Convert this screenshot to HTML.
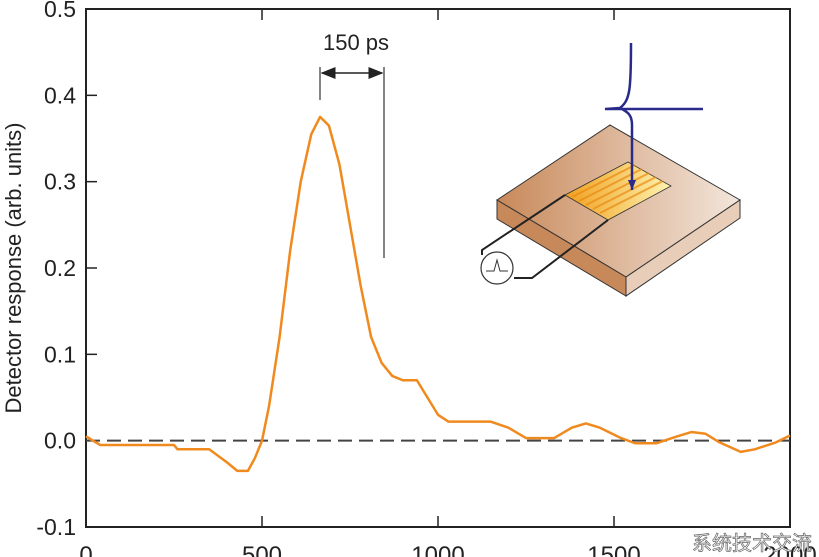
<!DOCTYPE html>
<html><head><meta charset="utf-8"><style>
html,body{margin:0;padding:0;background:#fff;width:819px;height:557px;overflow:hidden}
svg{display:block}
text{font-family:"Liberation Sans","Noto Sans CJK SC",sans-serif;fill:#222}
</style></head><body>
<svg id="c" width="819" height="557" viewBox="0 0 819 557">
<defs>
<marker id="ah" markerWidth="10" markerHeight="8" refX="9" refY="4" orient="auto-start-reverse"><path d="M0,0 L10,4 L0,8 Z" fill="#222"/></marker>
<linearGradient id="slab" x1="0" y1="0" x2="1" y2="0"><stop offset="0" stop-color="#c8895a"/><stop offset="1" stop-color="#f3e6dc"/></linearGradient>
<linearGradient id="stripes" x1="0" y1="0" x2="1" y2="0"><stop offset="0" stop-color="#f0a020"/><stop offset="1" stop-color="#fff3b0"/></linearGradient>
</defs>
<g id="axes"></g>
<g id="plot"></g>
<g>
<polygon points="497,200 610,125 740,200 626,277" fill="url(#slab)" stroke="#333" stroke-width="1"/>
<polygon points="497,200 626,277 626,296 497,219" fill="#c8895a" stroke="#333" stroke-width="1"/>
<polygon points="626,277 740,200 740,218 626,296" fill="#e8cdb8" stroke="#333" stroke-width="1"/>
<polygon points="565,195 628,162 671,186 608,220" fill="url(#stripes)" stroke="#333" stroke-width="0.8"/>
<g stroke="#e98a10" stroke-width="2" opacity="0.7">
<line x1="572" y1="197" x2="635" y2="165"/><line x1="579" y1="201" x2="642" y2="169"/><line x1="586" y1="205" x2="649" y2="173"/><line x1="593" y1="209" x2="656" y2="177"/><line x1="600" y1="213" x2="663" y2="181"/></g>
<polyline points="565,195 482,250 482,255" fill="none" stroke="#222" stroke-width="2"/>
<polyline points="608,220 532,278 514,278" fill="none" stroke="#222" stroke-width="2"/>
<circle cx="497" cy="268" r="16" fill="#fff" stroke="#333" stroke-width="1.2"/>
<polyline points="486,271 494,271 497,260 500,271 508,271" fill="none" stroke="#333" stroke-width="1"/>
<path d="M631,43 C631,90 630,100 620,108 L605,109 L703,109 M620,108 C628,112 632,115 632,125 L632,190" fill="none" stroke="#2a2a8a" stroke-width="2.5"/>
<polygon points="628,180 636,180 632,190" fill="#2a2a8a"/>
</g>
<g>
<line x1="320" y1="67" x2="320" y2="100" stroke="#333" stroke-width="1.2"/>
<line x1="384" y1="67" x2="384" y2="258" stroke="#333" stroke-width="1.2"/>
<line x1="322" y1="73" x2="382" y2="73" stroke="#222" stroke-width="1.5" marker-start="url(#ah)" marker-end="url(#ah)"/>
<text x="356" y="50" font-size="22" text-anchor="middle">150 ps</text>
</g>
<text x="752" y="550" font-size="20" text-anchor="middle" style="fill:#fff;stroke:#666;stroke-width:0.7">系统技术交流</text>
</svg>
<script>
const times=[0,20,40,250,260,350,400,430,460,480,500,520,550,580,610,640,665,690,720,750,780,810,840,870,900,940,970,1000,1030,1150,1200,1250,1330,1380,1420,1460,1520,1560,1620,1680,1720,1760,1800,1860,1900,1960,2000];
const response=[0.005,0.0,-0.005,-0.005,-0.01,-0.01,-0.025,-0.035,-0.035,-0.02,0.0,0.04,0.12,0.22,0.30,0.355,0.375,0.365,0.32,0.25,0.18,0.12,0.09,0.075,0.07,0.07,0.05,0.03,0.022,0.022,0.015,0.003,0.003,0.015,0.02,0.015,0.003,-0.003,-0.003,0.005,0.01,0.008,-0.002,-0.013,-0.01,-0.002,0.006];
const xTicks=[0,500,1000,1500,2000];
const yTicks=[-0.1,0.0,0.1,0.2,0.3,0.4,0.5];
const yTickLabels=["-0.1","0.0","0.1","0.2","0.3","0.4","0.5"];
const X0=86,X1=790,Y0=527,Y1=9;
const xs=v=>X0+(v-0)/(2000)*(X1-X0);
const ys=v=>Y0-(v+0.1)/0.6*(Y0-Y1);
const NS="http://www.w3.org/2000/svg";
const ax=document.getElementById('axes'),pl=document.getElementById('plot');
function mk(p,t,a){const e=document.createElementNS(NS,t);for(const k in a)e.setAttribute(k,a[k]);p.appendChild(e);return e;}
const fr=mk(ax,'rect',{x:X0,y:Y1,width:X1-X0,height:Y0-Y1,fill:'none',stroke:'#222','stroke-width':2});


xTicks.forEach(v=>{
 const t=mk(ax,'line',{x1:xs(v),x2:xs(v),y1:Y0,y2:Y0-11,stroke:'#222','stroke-width':1.5});
 
 
 mk(ax,'line',{x1:xs(v),x2:xs(v),y1:Y1,y2:Y1+11,stroke:'#222','stroke-width':1.5});
 const l=mk(ax,'text',{x:xs(v),y:563,'font-size':24,'text-anchor':'middle'});l.textContent=v;
 
 
});
yTicks.forEach((v,i)=>{
 const t=mk(ax,'line',{x1:X0,x2:X0+11,y1:ys(v),y2:ys(v),stroke:'#222','stroke-width':1.5});
 
 
 const l=mk(ax,'text',{x:76,y:ys(v)+8,'font-size':23,'text-anchor':'end'});l.textContent=yTickLabels[i];
 
 
});
const yt=mk(ax,'text',{x:0,y:0,'font-size':22,'text-anchor':'middle',transform:'translate(21,268) rotate(-90)'});
yt.textContent='Detector response (arb. units)';


const zl=mk(pl,'line',{x1:X0,x2:X1,y1:ys(0),y2:ys(0),stroke:'#444','stroke-width':2,'stroke-dasharray':'14,7'});


const line=mk(pl,'polyline',{points:times.map((t,i)=>xs(t)+','+ys(response[i])).join(' '),fill:'none',stroke:'#f08a1e','stroke-width':2.5,'stroke-linejoin':'round'});


</script>
</body></html>
